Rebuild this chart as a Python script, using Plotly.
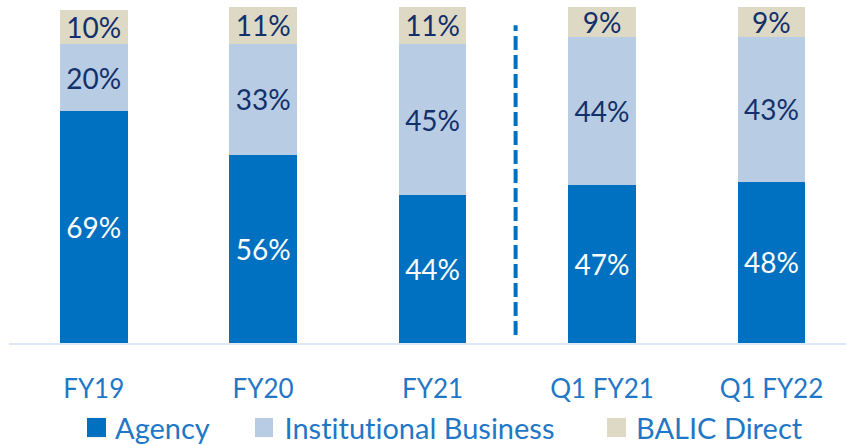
import plotly.graph_objects as go

# Channel mix (% of individual new business)
periods = ["FY19", "FY20", "FY21", "Q1 FY21", "Q1 FY22"]
agency = [69, 56, 44, 47, 48]
institutional = [20, 33, 45, 44, 43]
balic_direct = [10, 11, 11, 9, 9]

series_names = ["Agency", "Institutional Business", "BALIC Direct"]
series_colors = ["#0070C0", "#B8CCE4", "#DDD9C4"]
label_colors = ["#FFFFFF", "#13306B", "#13306B"]

FONT = "Lato"
AXIS_TEXT = "#1F77C6"

fig = go.Figure()
for name, vals, col, lc in zip(series_names, [agency, institutional, balic_direct],
                               series_colors, label_colors):
    fig.add_trace(go.Bar(
        x=periods, y=vals, name=name,
        marker=dict(color=col, line=dict(width=0)),
        text=[f"{v}%" for v in vals],
        textposition="inside", insidetextanchor="middle",
        constraintext="none",
        textfont=dict(family=FONT, size=28, color=lc),
        width=0.4, showlegend=False,
    ))

# dashed separator between annual and quarterly figures
fig.add_shape(type="line", xref="x", yref="y", x0=2.49, x1=2.49, y0=2.4, y1=94.6,
              line=dict(color="#0070C0", width=4, dash="14px,5px"))

# legend drawn below the axis labels
legend_sq = [(0.0932, 0.1159), (0.2939, 0.3154), (0.7145, 0.7372)]
legend_tx = [0.1245, 0.3260, 0.7465]
for name, col, (a, b), tx in zip(series_names, series_colors, legend_sq, legend_tx):
    fig.add_shape(type="rect", xref="paper", yref="paper", x0=a, x1=b,
                  y0=-0.223, y1=-0.280, fillcolor=col, line=dict(width=0))
    fig.add_annotation(text=name, xref="paper", yref="paper", x=tx, y=-0.250,
                       xanchor="left", yanchor="middle", showarrow=False,
                       font=dict(family=FONT, size=29, color=AXIS_TEXT))

fig.update_layout(
    barmode="stack",
    width=846, height=445,
    margin=dict(l=9, r=0, t=7, b=102),
    plot_bgcolor="white", paper_bgcolor="white",
    xaxis=dict(range=[-0.5, 4.44], showgrid=False, zeroline=False,
               showline=True, linecolor="#DCEAF8", linewidth=2,
               ticks="", ticklabelstandoff=22,
               tickfont=dict(family=FONT, size=26, color=AXIS_TEXT)),
    yaxis=dict(range=[0, 100], visible=False),
)

# keep "ti" as separate letters in the SVG text
no_ligatures = (
    "var s=document.createElement('style');"
    "s.textContent='.main-svg text{font-variant-ligatures:none;font-feature-settings:\"liga\" 0;}';"
    "document.head.appendChild(s);"
)
fig.write_html("out.html", post_script=no_ligatures)
